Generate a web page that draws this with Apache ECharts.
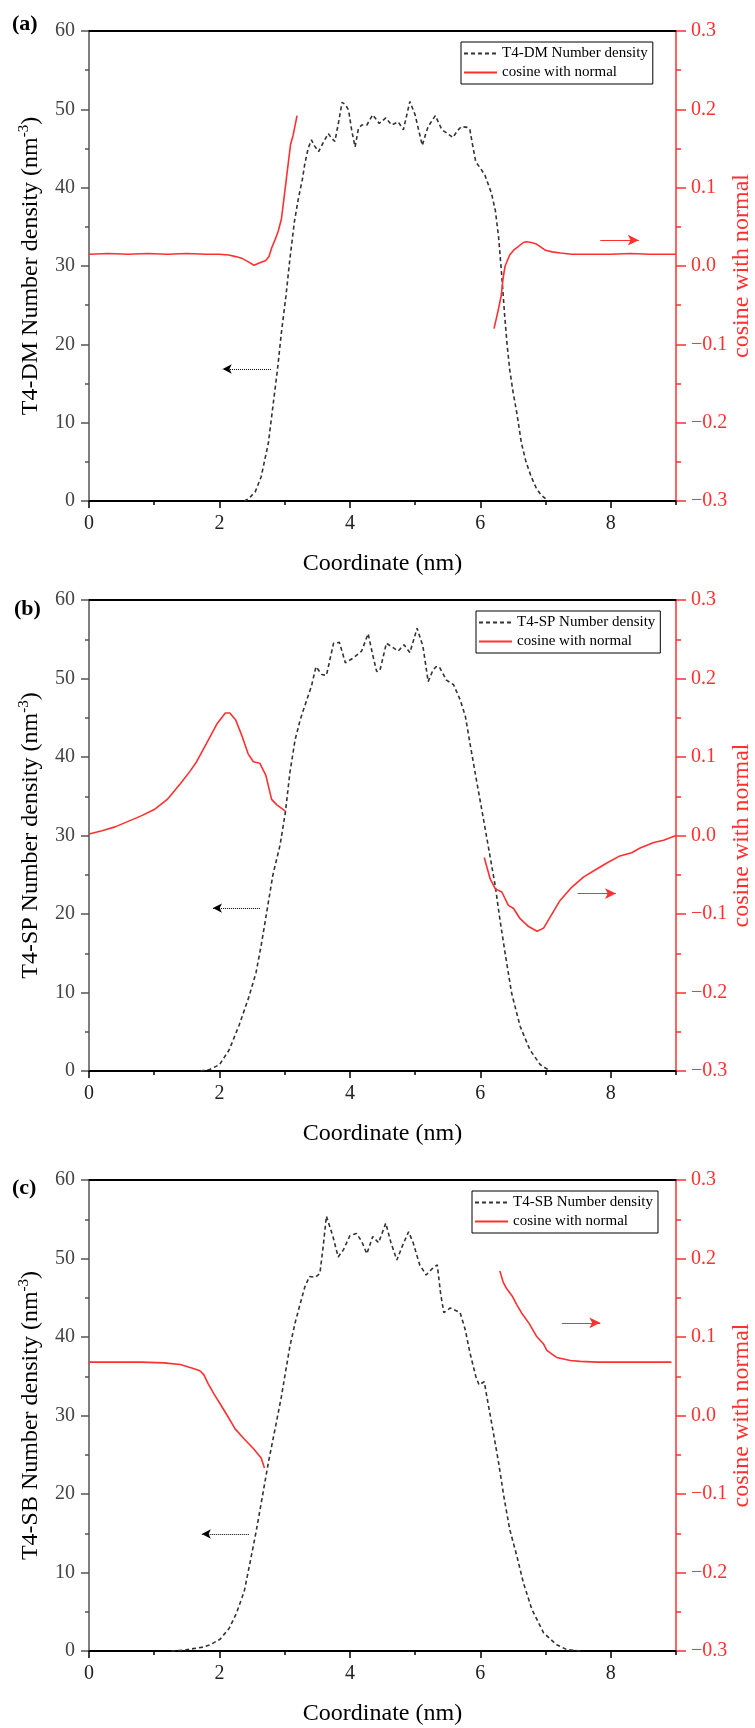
<!DOCTYPE html>
<html>
<head>
<meta charset="utf-8">
<title>Number density and cosine with normal</title>
<script src="https://cdn.jsdelivr.net/npm/echarts@6/dist/echarts.min.js"></script>
<style>
  html, body { margin: 0; padding: 0; background: #fff; }
  #main { width: 755px; height: 1728px; }
</style>
</head>
<body>
<div id="main"></div>
<script>
// panel texts
const panelLabels = ['(a)', '(b)', '(c)'];
const densityNames = ['T4-DM Number density', 'T4-SP Number density', 'T4-SB Number density'];
const yNamePrefix = ['T4-DM', 'T4-SP', 'T4-SB'];
const cosineName = 'cosine with normal';

// [coordinate nm, number density nm^-3]
const densityA = [
  [2.38, 0], [2.45, 0.3], [2.55, 1.2], [2.64, 3.1], [2.75, 7.4], [2.82, 12.1], [2.89, 16.8],
  [2.95, 21.5], [3.02, 26.2], [3.08, 30.9], [3.15, 35.7], [3.21, 38.6], [3.27, 41.0], [3.31, 43.1],
  [3.36, 45.0], [3.41, 46.1], [3.46, 45.3], [3.52, 44.6], [3.60, 45.9], [3.67, 46.9], [3.72, 46.3],
  [3.77, 45.9], [3.83, 48.5], [3.88, 50.9], [3.93, 50.6], [3.98, 49.9], [4.03, 47.2], [4.08, 45.2],
  [4.13, 47.5], [4.18, 48.0], [4.26, 48.0], [4.35, 49.3], [4.45, 48.2], [4.55, 48.9], [4.64, 48.0],
  [4.74, 48.4], [4.82, 47.4], [4.87, 49.2], [4.92, 51.0], [5.00, 49.3], [5.05, 47.5], [5.11, 45.4],
  [5.16, 46.8], [5.20, 47.8], [5.31, 49.2], [5.41, 47.4], [5.50, 46.9], [5.58, 46.4], [5.65, 47.3],
  [5.71, 47.8], [5.80, 47.7], [5.84, 47.4], [5.88, 45.5], [5.93, 43.3], [6.00, 42.5], [6.07, 41.6],
  [6.17, 39.3], [6.23, 37.1], [6.28, 33.7], [6.33, 28.6], [6.37, 24.0], [6.41, 20.0], [6.45, 16.8],
  [6.50, 14.0], [6.56, 11.2], [6.63, 7.4], [6.70, 5.0], [6.78, 3.1], [6.86, 1.6], [6.93, 0.8], [7.04, 0]
];
const densityB = [
  [1.71, 0], [1.85, 0.2], [2.00, 0.8], [2.15, 2.7], [2.30, 5.8], [2.45, 9.4], [2.56, 12.5],
  [2.64, 16.0], [2.73, 20.5], [2.82, 25.0], [2.93, 28.8], [3.01, 32.9], [3.08, 38.0], [3.16, 42.2],
  [3.24, 44.8], [3.34, 47.3], [3.41, 49.0], [3.48, 51.5], [3.57, 50.5], [3.64, 50.4], [3.75, 54.5],
  [3.84, 54.6], [3.93, 52.0], [4.05, 52.6], [4.18, 53.5], [4.28, 55.7], [4.35, 53.0], [4.41, 50.9],
  [4.46, 51.0], [4.56, 54.5], [4.65, 54.0], [4.74, 53.5], [4.83, 54.3], [4.92, 53.3], [5.03, 56.4],
  [5.12, 54.1], [5.20, 49.6], [5.27, 51.0], [5.32, 51.5], [5.37, 51.5], [5.48, 49.8], [5.59, 49.2],
  [5.69, 47.3], [5.77, 45.2], [5.84, 41.8], [5.92, 38.0], [6.05, 32.0], [6.15, 27.3], [6.23, 23.5],
  [6.30, 19.3], [6.38, 15.0], [6.48, 9.9], [6.61, 5.7], [6.76, 2.7], [6.92, 0.8], [7.07, 0]
];
const densityC = [
  [1.26, 0], [1.45, 0.1], [1.60, 0.3], [1.75, 0.5], [1.86, 0.8], [2.01, 1.5], [2.15, 2.9],
  [2.26, 4.8], [2.38, 7.6], [2.47, 11.3], [2.56, 15.1], [2.65, 19.3], [2.75, 24.0], [2.86, 28.6],
  [2.95, 32.4], [3.01, 35.4], [3.08, 38.8], [3.16, 41.8], [3.24, 44.3], [3.31, 46.4], [3.38, 47.7],
  [3.47, 47.6], [3.54, 48.1], [3.59, 51.5], [3.64, 55.4], [3.74, 52.8], [3.82, 50.2], [3.90, 51.1],
  [4.00, 52.9], [4.10, 53.2], [4.18, 52.2], [4.26, 50.6], [4.35, 52.8], [4.44, 52.0], [4.55, 54.5],
  [4.63, 52.0], [4.72, 49.8], [4.81, 51.7], [4.90, 53.4], [4.97, 52.0], [5.07, 49.2], [5.17, 47.9],
  [5.25, 48.6], [5.34, 49.2], [5.39, 45.6], [5.44, 43.1], [5.54, 43.7], [5.69, 43.1], [5.77, 40.9],
  [5.84, 38.0], [5.93, 35.0], [5.98, 33.9], [6.06, 34.3], [6.10, 32.4], [6.20, 27.8], [6.28, 24.0],
  [6.36, 19.7], [6.45, 15.5], [6.56, 12.1], [6.66, 8.7], [6.79, 5.3], [6.97, 2.3], [7.17, 0.8],
  [7.32, 0.2], [7.53, 0]
];

// [coordinate nm, cosine with normal], each curve in two pieces
const cosineA1 = [
  [0, 0.015], [0.3, 0.016], [0.6, 0.015], [0.9, 0.016], [1.2, 0.015], [1.5, 0.016], [1.8, 0.015],
  [2.0, 0.015], [2.14, 0.014], [2.25, 0.012], [2.34, 0.010], [2.45, 0.005], [2.53, 0.001],
  [2.62, 0.004], [2.71, 0.007], [2.76, 0.012], [2.80, 0.023], [2.86, 0.035], [2.90, 0.044],
  [2.95, 0.060], [2.98, 0.080], [3.03, 0.114], [3.09, 0.155], [3.13, 0.167], [3.19, 0.192]
];
const cosineA2 = [
  [6.21, -0.080], [6.27, -0.058], [6.32, -0.038], [6.35, -0.015], [6.38, 0.0], [6.45, 0.014],
  [6.52, 0.021], [6.60, 0.026], [6.66, 0.030], [6.71, 0.031], [6.78, 0.030], [6.86, 0.028],
  [6.93, 0.024], [7.0, 0.020], [7.1, 0.018], [7.23, 0.0166], [7.4, 0.015], [7.7, 0.015],
  [8.0, 0.015], [8.3, 0.016], [8.6, 0.015], [9.0, 0.015]
];
const cosineB1 = [
  [0, 0.002], [0.2, 0.006], [0.4, 0.011], [0.6, 0.018], [0.8, 0.025], [1.0, 0.033], [1.2, 0.046],
  [1.4, 0.066], [1.55, 0.082], [1.65, 0.094], [1.80, 0.117], [1.96, 0.142], [2.09, 0.156],
  [2.16, 0.156], [2.25, 0.147], [2.34, 0.128], [2.44, 0.104], [2.52, 0.094], [2.62, 0.092],
  [2.71, 0.077], [2.80, 0.046], [2.88, 0.039], [3.01, 0.031]
];
const cosineB2 = [
  [6.06, -0.028], [6.15, -0.055], [6.23, -0.068], [6.33, -0.072], [6.43, -0.089], [6.51, -0.093],
  [6.61, -0.106], [6.74, -0.116], [6.87, -0.122], [6.97, -0.118], [7.07, -0.104], [7.22, -0.083],
  [7.40, -0.066], [7.58, -0.053], [7.76, -0.044], [7.94, -0.035], [8.14, -0.026], [8.32, -0.022],
  [8.45, -0.016], [8.66, -0.009], [8.81, -0.006], [9.0, 0.0]
];
const cosineC1 = [
  [0, 0.068], [0.4, 0.068], [0.8, 0.068], [1.15, 0.067], [1.40, 0.065], [1.60, 0.060],
  [1.70, 0.057], [1.76, 0.052], [1.83, 0.040], [1.92, 0.027], [2.01, 0.015], [2.12, 0.000],
  [2.24, -0.017], [2.38, -0.030], [2.45, -0.036], [2.52, -0.042], [2.64, -0.054], [2.69, -0.067]
];
const cosineC2 = [
  [6.30, 0.184], [6.35, 0.170], [6.40, 0.162], [6.49, 0.152], [6.56, 0.141], [6.63, 0.131],
  [6.75, 0.117], [6.86, 0.101], [6.97, 0.091], [7.02, 0.083], [7.12, 0.077], [7.17, 0.074],
  [7.38, 0.070], [7.53, 0.069], [7.8, 0.068], [8.2, 0.068], [8.6, 0.068], [8.93, 0.068]
];

// arrows: [from x, to x, y]
const densityArrows = [[2.79, 2.05, 16.85], [2.62, 1.90, 20.75], [2.45, 1.73, 14.9]];
const cosineArrows = [[7.84, 8.43, 0.033], [7.49, 8.08, -0.074], [7.25, 7.84, 0.118]];

const densityData = [densityA, densityB, densityC];
const cosineData = [[cosineA1, cosineA2], [cosineB1, cosineB2], [cosineC1, cosineC2]];

const serif = '"Liberation Serif", "Times New Roman", serif';
const red = '#ff3030';
const gridTops = [31, 600, 1180];
const gridHeights = [470, 471, 471];
const legendPos = [[461, 42], [476, 611], [472, 1191]];
const labelPos = [[12, 13], [14, 598], [12, 1177]];

const grid = [], xAxis = [], yAxis = [], series = [], legend = [], graphic = [];

gridTops.forEach((top, i) => {
  grid.push({ left: 89, top: top, width: 587, height: gridHeights[i], outerBoundsMode: 'none', containLabel: false });

  // bottom axis with labels and long ticks
  xAxis.push({
    type: 'value', gridIndex: i, min: 0, max: 9, interval: 2, position: 'bottom',
    name: 'Coordinate (nm)', nameLocation: 'middle', nameGap: 51, nameMoveOverlap: false,
    nameTextStyle: { fontFamily: serif, fontSize: 24, color: '#000' },
    axisLine: { onZero: false, lineStyle: { color: '#000', width: 2 } },
    axisTick: { length: 7, lineStyle: { color: '#000', width: 1.5 } },
    axisLabel: { fontFamily: serif, fontSize: 20, color: '#222', margin: 13, showMaxLabel: false },
    splitLine: { show: false }
  });
  // short ticks at odd values
  xAxis.push({
    type: 'value', gridIndex: i, min: 0, max: 9, interval: 1, position: 'bottom',
    axisLine: { show: false, onZero: false },
    axisTick: { length: 4, lineStyle: { color: '#000', width: 1.5 } },
    axisLabel: { show: false },
    splitLine: { show: false }
  });
  // top frame line
  xAxis.push({
    type: 'value', gridIndex: i, min: 0, max: 9, position: 'top',
    axisLine: { onZero: false, lineStyle: { color: '#000', width: 2 } },
    axisTick: { show: false }, axisLabel: { show: false }, splitLine: { show: false }
  });

  yAxis.push({
    type: 'value', gridIndex: i, min: 0, max: 60, interval: 10, position: 'left',
    name: yNamePrefix[i] + ' Number density (nm{sup|-3})',
    nameLocation: 'middle', nameGap: 44, nameMoveOverlap: false,
    nameTextStyle: {
      fontFamily: serif, fontSize: 24, color: '#000', lineHeight: 28,
      rich: { sup: { fontFamily: serif, fontSize: 15, color: '#000', verticalAlign: 'top', lineHeight: 15 } }
    },
    axisLine: { onZero: false, lineStyle: { color: '#555', width: 1.5 } },
    axisTick: { length: 8, lineStyle: { color: '#555', width: 1.5 } },
    minorTick: { show: true, splitNumber: 2, length: 4, lineStyle: { color: '#555', width: 1.5 } },
    axisLabel: { fontFamily: serif, fontSize: 20, color: '#444', margin: 14 },
    splitLine: { show: false }
  });
  yAxis.push({
    type: 'value', gridIndex: i, min: -0.3, max: 0.3, interval: 0.1, position: 'right',
    name: cosineName, nameLocation: 'middle', nameGap: 54, nameMoveOverlap: false,
    nameTextStyle: { fontFamily: serif, fontSize: 24, color: red },
    axisLine: { onZero: false, lineStyle: { color: red, width: 1.5 } },
    axisTick: { length: 10, lineStyle: { color: red, width: 1.5 } },
    minorTick: { show: true, splitNumber: 2, length: 5, lineStyle: { color: red, width: 1.5 } },
    axisLabel: {
      fontFamily: serif, fontSize: 20, color: red, margin: 15,
      formatter: v => (v < -1e-9 ? '\u2212' : '') + Math.abs(v).toFixed(1)
    },
    splitLine: { show: false }
  });

  const da = densityArrows[i];
  series.push({
    name: densityNames[i], type: 'line', xAxisIndex: 3 * i, yAxisIndex: 2 * i,
    data: densityData[i], symbol: 'none', smooth: false,
    lineStyle: { color: '#333', width: 1.6, type: [4, 3] },
    itemStyle: { color: '#333' },
    markLine: {
      silent: true, symbol: ['none', 'arrow'], symbolSize: [7, 9],
      label: { show: false },
      lineStyle: { color: '#000', type: 'dotted', width: 1 },
      data: [[{ coord: [da[0], da[2]] }, { coord: [da[1], da[2]] }]]
    }
  });
  const ca = cosineArrows[i];
  cosineData[i].forEach((piece, k) => {
    series.push({
      name: cosineName, type: 'line', xAxisIndex: 3 * i, yAxisIndex: 2 * i + 1,
      data: piece, symbol: 'none',
      lineStyle: { color: red, width: 1.6 },
      itemStyle: { color: red },
      markLine: k === 1 ? {
        silent: true, symbol: ['none', 'arrow'], symbolSize: [8, 11],
        label: { show: false },
        lineStyle: { color: red, type: 'solid', width: 1 },
        data: [[{ coord: [ca[0], ca[2]] }, { coord: [ca[1], ca[2]] }]]
      } : undefined
    });
  });

  legend.push({
    left: legendPos[i][0], top: legendPos[i][1], orient: 'vertical',
    data: [densityNames[i], cosineName], selectedMode: false,
    borderColor: '#000', borderWidth: 1, padding: [4, 5, 4, 2],
    itemWidth: 33, itemHeight: 12, itemGap: 4,
    itemStyle: { opacity: 0 },
    textStyle: { fontFamily: serif, fontSize: 15, color: '#000' }
  });

  graphic.push({
    type: 'text', left: labelPos[i][0], top: labelPos[i][1],
    style: { text: panelLabels[i], font: 'bold 22px ' + serif, fill: '#000' }
  });
});

const chart = echarts.init(document.getElementById('main'));
chart.setOption({
  animation: false,
  backgroundColor: '#fff',
  grid, xAxis, yAxis, series, legend, graphic
});
</script>
</body>
</html>
